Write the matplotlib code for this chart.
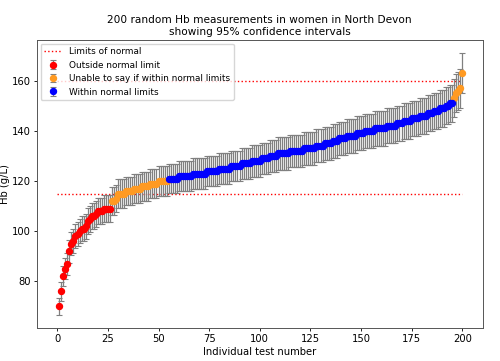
import numpy as np
import matplotlib
matplotlib.use("Agg")
import matplotlib.pyplot as plt

# Sorted Hb results (g/L)
hb_values = [
    70, 76, 82, 85, 87, 92, 95, 96, 98, 99,
    100, 101, 101, 102, 104, 105, 106, 106, 107, 108,
    108, 108, 109, 109, 109, 109, 112, 112, 113, 115,
    115, 115, 115, 116, 116, 116, 116, 117, 117, 117,
    117, 118, 118, 118, 118, 119, 119, 119, 119, 120,
    120, 120, 120, 120, 121, 121, 121, 121, 121, 122,
    122, 122, 122, 122, 122, 122, 123, 123, 123, 123,
    123, 123, 123, 124, 124, 124, 124, 124, 124, 125,
    125, 125, 125, 125, 125, 126, 126, 126, 126, 126,
    127, 127, 127, 127, 127, 128, 128, 128, 128, 128,
    129, 129, 129, 129, 130, 130, 130, 130, 131, 131,
    131, 131, 131, 131, 132, 132, 132, 132, 132, 132,
    132, 133, 133, 133, 133, 133, 133, 134, 134, 134,
    134, 135, 135, 135, 135, 136, 136, 136, 137, 137,
    137, 137, 138, 138, 138, 138, 138, 139, 139, 139,
    139, 140, 140, 140, 140, 140, 141, 141, 141, 141,
    141, 141, 142, 142, 142, 142, 142, 143, 143, 143,
    144, 144, 144, 144, 145, 145, 145, 145, 146, 146,
    146, 146, 147, 147, 147, 148, 148, 148, 149, 149,
    149, 150, 150, 151, 151, 153, 155, 156, 157, 163,
]

# Reference range for women and the 95% CI half-width (1.96 x analytical CV)
lower_limit = 115
upper_limit = 160
ci_fraction = 0.049

hb = np.array(hb_values, dtype=float)
test_no = np.arange(1, len(hb) + 1)
err = hb * ci_fraction
lo = hb - err
hi = hb + err

outside = (hi < lower_limit) | (lo > upper_limit)
within = (lo >= lower_limit) & (hi <= upper_limit)
unsure = ~outside & ~within

fig = plt.figure(figsize=(5.0, 3.61), dpi=100)
ax = fig.add_axes([0.074, 0.091, 0.891, 0.798])

fs = 7.2
ax.hlines([lower_limit, upper_limit], 0, 200, colors='red', linestyles=':',
          linewidth=1.0, label='Limits of normal')

groups = [
    (outside, 'red', 'Outside normal limit'),
    (unsure, '#ff9a22', 'Unable to say if within normal limits'),
    (within, 'blue', 'Within normal limits'),
]
for mask, colour, label in groups:
    ax.errorbar(test_no[mask], hb[mask], yerr=err[mask], fmt='o', color=colour,
                ecolor='grey', elinewidth=0.9, capsize=2.5, capthick=0.8,
                markersize=4.3, label=label)

ax.set_title('200 random Hb measurements in women in North Devon\n'
             'showing 95% confidence intervals', fontsize=7.6, pad=4)
ax.set_xlabel('Individual test number', fontsize=fs, labelpad=2)
ax.set_ylabel('Hb (g/L)', fontsize=fs, labelpad=1)
ax.set_xticks([0, 25, 50, 75, 100, 125, 150, 175, 200])
ax.set_yticks([80, 100, 120, 140, 160])
ax.tick_params(labelsize=fs, length=2.5, width=0.6, pad=2)
for s in ax.spines.values():
    s.set_linewidth(0.7)
    s.set_color('#555555')

ax.legend(loc='upper left', fontsize=6.4, borderpad=0.4, labelspacing=0.5,
          handletextpad=0.8, handlelength=2.0, borderaxespad=0.4)

fig.savefig('out.png', dpi=100)
